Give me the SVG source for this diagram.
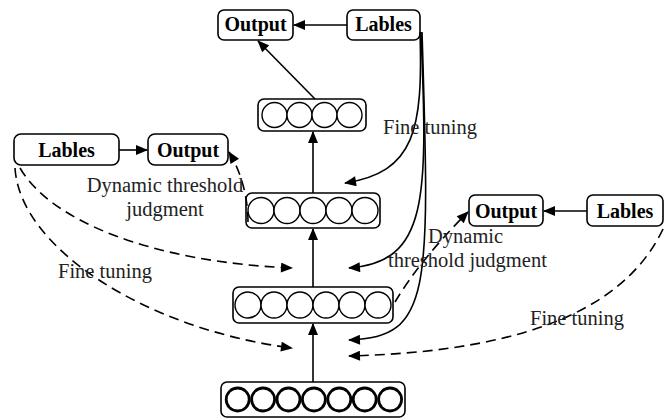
<svg xmlns="http://www.w3.org/2000/svg" width="665" height="419" viewBox="0 0 665 419">
<style>
.box{fill:#fff;stroke:#000;stroke-width:1.6}
.lbl{font-family:"Liberation Serif",serif;font-weight:bold;font-size:20px;fill:#000;text-anchor:middle}
.txt{font-family:"Liberation Serif",serif;font-size:20.5px;fill:#222}
.cir{fill:#fff;stroke:#000;stroke-width:1.4}
.cirb{fill:#fff;stroke:#000;stroke-width:2.8}
.ln{fill:none;stroke:#000;stroke-width:1.6}
.dash{fill:none;stroke:#000;stroke-width:1.6;stroke-dasharray:10 6}
</style>
<defs>
<marker id="ah" viewBox="0 0 12 10" refX="11" refY="5" markerWidth="13" markerHeight="10" markerUnits="userSpaceOnUse" orient="auto">
<path d="M0,0 L12,5 L0,10 Z" fill="#000"/>
</marker>
</defs>
<g id="out-top"><rect class="box" x="218" y="10" width="75" height="30" rx="6"/><text class="lbl" x="255.5" y="31">Output</text></g>
<g id="lab-top"><rect class="box" x="347" y="10" width="73" height="30" rx="6"/><text class="lbl" x="383.5" y="31">Lables</text></g>
<g id="lab-left"><rect class="box" x="14" y="134" width="105" height="31" rx="7"/><text class="lbl" x="66.5" y="157">Lables</text></g>
<g id="out-left"><rect class="box" x="148" y="134" width="80" height="31" rx="7"/><text class="lbl" x="188" y="157">Output</text></g>
<g id="out-right"><rect class="box" x="469" y="195" width="74" height="31" rx="6"/><text class="lbl" x="506" y="218">Output</text></g>
<g id="lab-right"><rect class="box" x="587" y="195" width="76" height="31" rx="6"/><text class="lbl" x="625" y="218">Lables</text></g>
<g id="layer4"><rect class="box" x="258" y="99" width="108" height="32" rx="6"/>
<circle class="cir" cx="274.5" cy="115" r="12.5"/><circle class="cir" cx="299.5" cy="115" r="12.5"/><circle class="cir" cx="324.5" cy="115" r="12.5"/><circle class="cir" cx="349.5" cy="115" r="12.5"/></g>
<g id="layer3"><rect class="box" x="246" y="193" width="134" height="35" rx="6"/>
<circle class="cir" cx="261" cy="210.5" r="13"/><circle class="cir" cx="287" cy="210.5" r="13"/><circle class="cir" cx="313" cy="210.5" r="13"/><circle class="cir" cx="339" cy="210.5" r="13"/><circle class="cir" cx="365" cy="210.5" r="13"/></g>
<g id="layer2"><rect class="box" x="233" y="287" width="160" height="36" rx="6"/>
<circle class="cir" cx="248" cy="305" r="13"/><circle class="cir" cx="274" cy="305" r="13"/><circle class="cir" cx="300" cy="305" r="13"/><circle class="cir" cx="326" cy="305" r="13"/><circle class="cir" cx="352" cy="305" r="13"/><circle class="cir" cx="378" cy="305" r="13"/></g>
<g id="layer1"><rect class="box" x="221" y="382" width="184" height="35" rx="6"/>
<circle class="cirb" cx="237.7" cy="399.5" r="11.5"/><circle class="cirb" cx="263.1" cy="399.5" r="11.5"/><circle class="cirb" cx="288.5" cy="399.5" r="11.5"/><circle class="cirb" cx="313.9" cy="399.5" r="11.5"/><circle class="cirb" cx="339.3" cy="399.5" r="11.5"/><circle class="cirb" cx="364.7" cy="399.5" r="11.5"/><circle class="cirb" cx="390.1" cy="399.5" r="11.5"/></g>
<g id="connectors">
<line class="ln" x1="347" y1="25" x2="294" y2="25" marker-end="url(#ah)"/>
<line class="ln" x1="119" y1="150" x2="147" y2="150" marker-end="url(#ah)"/>
<line class="ln" x1="587" y1="211" x2="544" y2="211" marker-end="url(#ah)"/>
<line class="ln" x1="315" y1="99" x2="258" y2="41" marker-end="url(#ah)"/>
<line class="ln" x1="313" y1="193" x2="313" y2="132" marker-end="url(#ah)"/>
<line class="ln" x1="313" y1="287" x2="313" y2="229" marker-end="url(#ah)"/>
<line class="ln" x1="313" y1="382" x2="313" y2="324" marker-end="url(#ah)"/>
<path class="ln" d="M420,32 C423,130 415,172 345,183" marker-end="url(#ah)"/>
<path class="ln" d="M421,32 C428,200 428,262 349,268" marker-end="url(#ah)"/>
<path class="ln" d="M422,32 C430,290 432,338 349,340" marker-end="url(#ah)"/>
<path class="dash" d="M20,168 C50,220 150,262 292,268" marker-end="url(#ah)"/>
<path class="dash" d="M15,168 C20,250 150,330 292,348" marker-end="url(#ah)"/>
<path class="dash" d="M663,229 C620,320 500,352 349,356" marker-end="url(#ah)"/>
<path class="dash" d="M248,222 C248,195 240,170 229,152" marker-end="url(#ah)"/>
<path class="dash" d="M395,302 Q420,260 468,212" marker-end="url(#ah)"/>
</g>
<text class="txt" x="383" y="134">Fine tuning</text>
<text class="txt" x="165" y="192" text-anchor="middle">Dynamic threshold</text>
<text class="txt" x="165" y="216" text-anchor="middle">judgment</text>
<text class="txt" x="58" y="278">Fine tuning</text>
<text class="txt" x="428" y="243">Dynamic</text>
<text class="txt" x="388" y="267">threshold judgment</text>
<text class="txt" x="530" y="325">Fine tuning</text>
</svg>
